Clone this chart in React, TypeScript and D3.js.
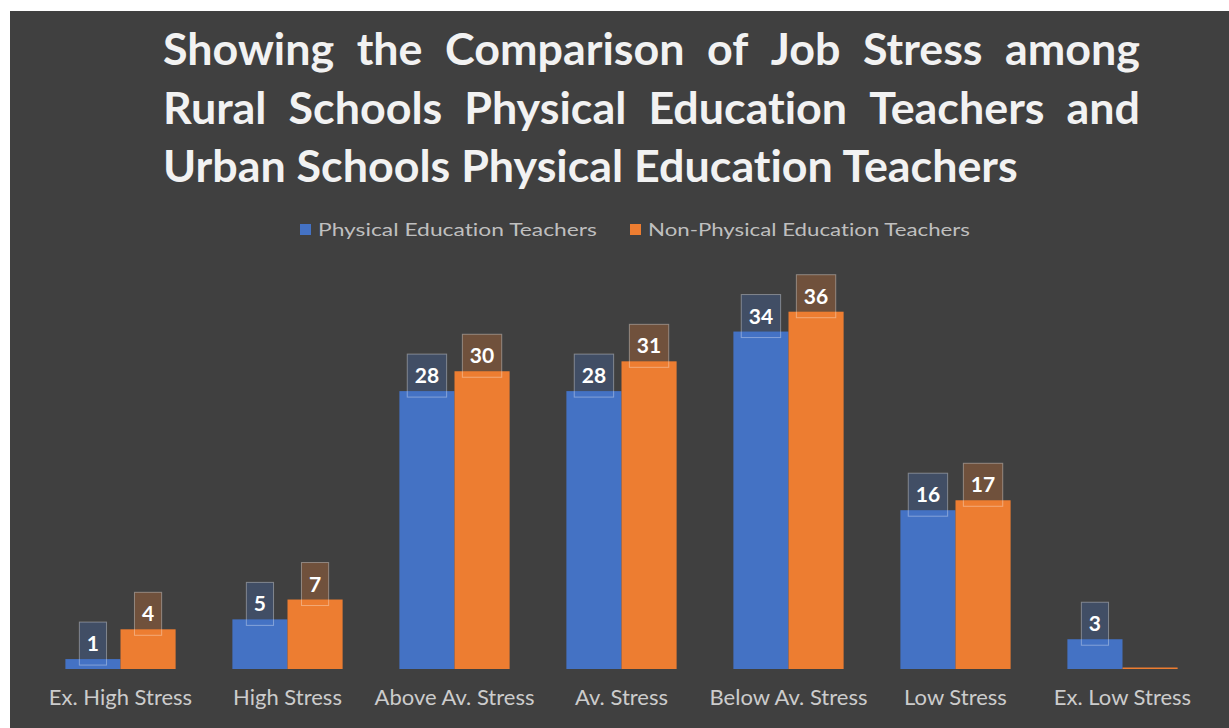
import React, { useEffect, useRef } from "react";
import * as d3 from "d3";

const categories = [
  "Ex. High Stress",
  "High Stress",
  "Above Av. Stress",
  "Av. Stress",
  "Below Av. Stress",
  "Low Stress",
  "Ex. Low Stress",
];
const seriesNames = ["Physical Education Teachers", "Non-Physical Education Teachers"];
const peValues = [1, 5, 28, 28, 34, 16, 3];
const nonPeValues = [4, 7, 30, 31, 36, 17, 0];
const seriesColors = ["#4472C4", "#ED7D31"];
const titleLines = [
  "Showing the Comparison of Job Stress among",
  "Rural Schools Physical Education Teachers and",
  "Urban Schools Physical Education Teachers",
];

const W = 1229;
const H = 728;
const noLig = "font-variant-ligatures: none; font-feature-settings: 'liga' 0, 'clig' 0;";

export default function App() {
  const ref = useRef<SVGSVGElement | null>(null);

  useEffect(() => {
    const svg = d3.select(ref.current);
    svg.selectAll("*").remove();

    svg.append("rect").attr("x", 0).attr("y", 0).attr("width", W).attr("height", H).attr("fill", "#ffffff");
    svg.append("rect").attr("x", 10).attr("y", 11).attr("width", W - 10).attr("height", H - 11).attr("fill", "#404040");

    // ---- Title (justified) ----
    const titleFont = "Lato, 'Open Sans', sans-serif";
    const probe = svg
      .append("text")
      .attr("font-family", titleFont)
      .attr("font-weight", 700)
      .attr("font-size", 100)
      .attr("style", noLig)
      .text(titleLines[2]);
    const w100 = (probe.node() as SVGTextElement).getComputedTextLength();
    probe.remove();
    const titleSize = (855 / w100) * 100;
    const titleLeft = 163;
    const titleRight = 1140;
    const baselines = [65, 124, 182];
    const tg = svg.append("g");
    titleLines.forEach((line, i) => {
      const words = line.split(" ");
      if (i < 2) {
        const widths = words.map((w) => {
          const t = tg
            .append("text")
            .attr("font-family", titleFont)
            .attr("font-weight", 700)
            .attr("font-size", titleSize)
            .attr("style", noLig)
            .text(w);
          const len = (t.node() as SVGTextElement).getComputedTextLength();
          t.remove();
          return len;
        });
        const total = d3.sum(widths);
        const gap = (titleRight - titleLeft - total) / (words.length - 1);
        let x = titleLeft;
        words.forEach((w, j) => {
          tg.append("text")
            .attr("x", x)
            .attr("y", baselines[i])
            .attr("font-family", titleFont)
            .attr("font-weight", 700)
            .attr("font-size", titleSize)
            .attr("style", noLig)
            .attr("fill", "#f2f2f2")
            .text(w);
          x += widths[j] + gap;
        });
      } else {
        tg.append("text")
          .attr("x", titleLeft)
          .attr("y", baselines[i])
          .attr("font-family", titleFont)
          .attr("font-weight", 700)
          .attr("font-size", titleSize)
          .attr("style", noLig)
          .attr("fill", "#f2f2f2")
          .text(line);
      }
    });

    // ---- Legend ----
    const lg = svg.append("g");
    const legendItems = [
      { x: 300, textX: 318, textW: 279 },
      { x: 630, textX: 648, textW: 322 },
    ];
    seriesNames.forEach((name, i) => {
      lg.append("rect")
        .attr("x", legendItems[i].x)
        .attr("y", 224)
        .attr("width", 11)
        .attr("height", 11)
        .attr("fill", seriesColors[i]);
      lg.append("text")
        .attr("x", legendItems[i].textX)
        .attr("y", 236)
        .attr("font-family", "Lato, sans-serif")
        .attr("font-size", 17)
        .attr("fill", "#bfbfbf")
        .attr("style", noLig)
        .attr("textLength", legendItems[i].textW)
        .attr("lengthAdjust", "spacingAndGlyphs")
        .text(name);
    });

    // ---- Scales ----
    const x0 = d3.scaleBand<string>().domain(categories).range([37, 1206]).paddingInner(0.34).paddingOuter(0.17);
    const x1 = d3.scaleBand<string>().domain(seriesNames).range([0, x0.bandwidth()]).padding(0);
    const y = d3.scaleLinear().domain([0, 40]).range([669, 272]);

    const data = categories.map((c, i) => ({
      cat: c,
      vals: [peValues[i], nonPeValues[i]],
    }));

    const groups = svg
      .append("g")
      .selectAll("g")
      .data(data)
      .join("g")
      .attr("transform", (d) => `translate(${x0(d.cat)},0)`);

    groups
      .selectAll("rect.bar")
      .data((d) => d.vals.map((v, si) => ({ v, si })))
      .join("rect")
      .attr("class", "bar")
      .attr("x", (d) => x1(seriesNames[d.si]) as number)
      .attr("y", (d) => (d.v > 0 ? y(d.v) : y(0) - 1.5))
      .attr("width", x1.bandwidth())
      .attr("height", (d) => (d.v > 0 ? y(0) - y(d.v) : 1.5))
      .attr("fill", (d) => seriesColors[d.si]);

    // ---- Data labels ----
    const labelFont = "Lato, sans-serif";
    groups.each(function (d) {
      const g = d3.select(this);
      d.vals.forEach((v, si) => {
        if (v <= 0) return;
        const cx = (x1(seriesNames[si]) as number) + x1.bandwidth() / 2;
        const top = y(v);
        const t = g
          .append("text")
          .attr("font-family", labelFont)
          .attr("font-weight", 700)
          .attr("font-size", 21)
          .attr("text-anchor", "middle")
          .attr("x", cx)
          .attr("y", top - 8)
          .attr("fill", "#ffffff")
          .text(String(v));
        const tw = (t.node() as SVGTextElement).getComputedTextLength();
        const bw = tw + 15;
        g.insert("rect", "text")
          .attr("x", cx - bw / 2)
          .attr("y", top - 37)
          .attr("width", bw)
          .attr("height", 43)
          .attr("fill", seriesColors[si])
          .attr("fill-opacity", 0.28)
          .attr("stroke", "#ffffff")
          .attr("stroke-opacity", 0.35)
          .attr("stroke-width", 1);
      });
    });

    // ---- Category labels ----
    const probe2 = svg
      .append("text")
      .attr("font-family", "Lato, sans-serif")
      .attr("font-size", 100)
      .text("Below Av. Stress");
    const cw100 = (probe2.node() as SVGTextElement).getComputedTextLength();
    probe2.remove();
    const catSize = (158 / cw100) * 100;
    svg
      .append("g")
      .selectAll("text")
      .data(categories)
      .join("text")
      .attr("x", (c) => (x0(c) as number) + x0.bandwidth() / 2)
      .attr("y", 705)
      .attr("text-anchor", "middle")
      .attr("font-family", "Lato, sans-serif")
      .attr("font-size", catSize)
      .attr("fill", "#cccccc")
      .text((c) => c);
  }, []);

  return (
    <svg
      ref={ref}
      width={W}
      height={H}
      style={{ position: "absolute", left: 0, top: 0, display: "block" }}
    />
  );
}
